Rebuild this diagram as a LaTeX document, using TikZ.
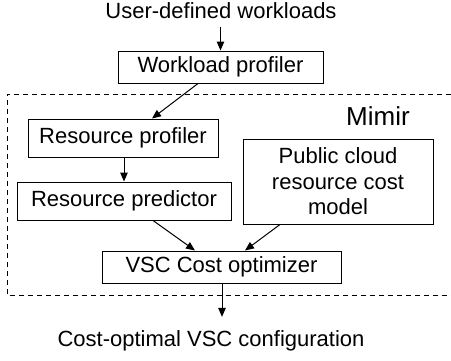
\documentclass[tikz,border=0pt]{standalone}
\usepackage{fontspec}
\setmainfont{Liberation Sans}
\usetikzlibrary{arrows.meta}
\begin{document}
\begin{tikzpicture}[x=1pt,y=-1pt,
  box/.style={draw,line width=1pt,inner sep=0pt,font=\fontsize{22}{25.5}\selectfont},
  lbl/.style={inner sep=0pt,anchor=base,font=\fontsize{22}{25.5}\selectfont},
  arr/.style={line width=1pt,-{Triangle[length=9pt,width=7.5pt]}}]
\useasboundingbox (0,0) rectangle (451,360);
\node[lbl] (title) at (221,18.3) {User-defined workloads};
\node[box,minimum width=205pt,minimum height=32pt] (work) at (220.5,67) {Workload profiler};
\draw[line width=1pt,dash pattern=on 5pt off 4pt] (451,94) -- (7,94) -- (7,295) -- (451,295);
\node[lbl,font=\fontsize{26}{30}\selectfont] (mimir) at (378,125) {Mimir};
\node[box,minimum width=190pt,minimum height=38pt] (rprof) at (123,138) {Resource profiler};
\node[box,minimum width=214pt,minimum height=38pt] (rpred) at (124,201) {Resource predictor};
\node[box,minimum width=190pt,minimum height=85pt,align=center] (cloud) at (338,181.5) {Public cloud\\resource cost\\model};
\node[box,minimum width=239pt,minimum height=32pt] (vsc) at (221.5,267) {VSC Cost optimizer};
\node[lbl] (out) at (211,346) {Cost-optimal VSC configuration};
\draw[arr,shorten <=8pt] (title.south -| work.north) -- (work.north);
\draw[arr] ([xshift=-22.5pt]work.south) -- ([xshift=29pt]rprof.north);
\draw[arr] ([xshift=1pt]rprof.south) -- ([xshift=1pt]rprof.south |- rpred.north);
\draw[arr] ([xshift=29pt]rpred.south) -- ([xshift=-26.5pt]vsc.north);
\draw[arr] ([xshift=-58pt]cloud.south) -- ([xshift=23.5pt]vsc.north);
\draw[arr,shorten >=13pt] ([xshift=0.5pt]vsc.south) -- ([xshift=0.5pt]vsc.south |- out.north);
\end{tikzpicture}
\end{document}
